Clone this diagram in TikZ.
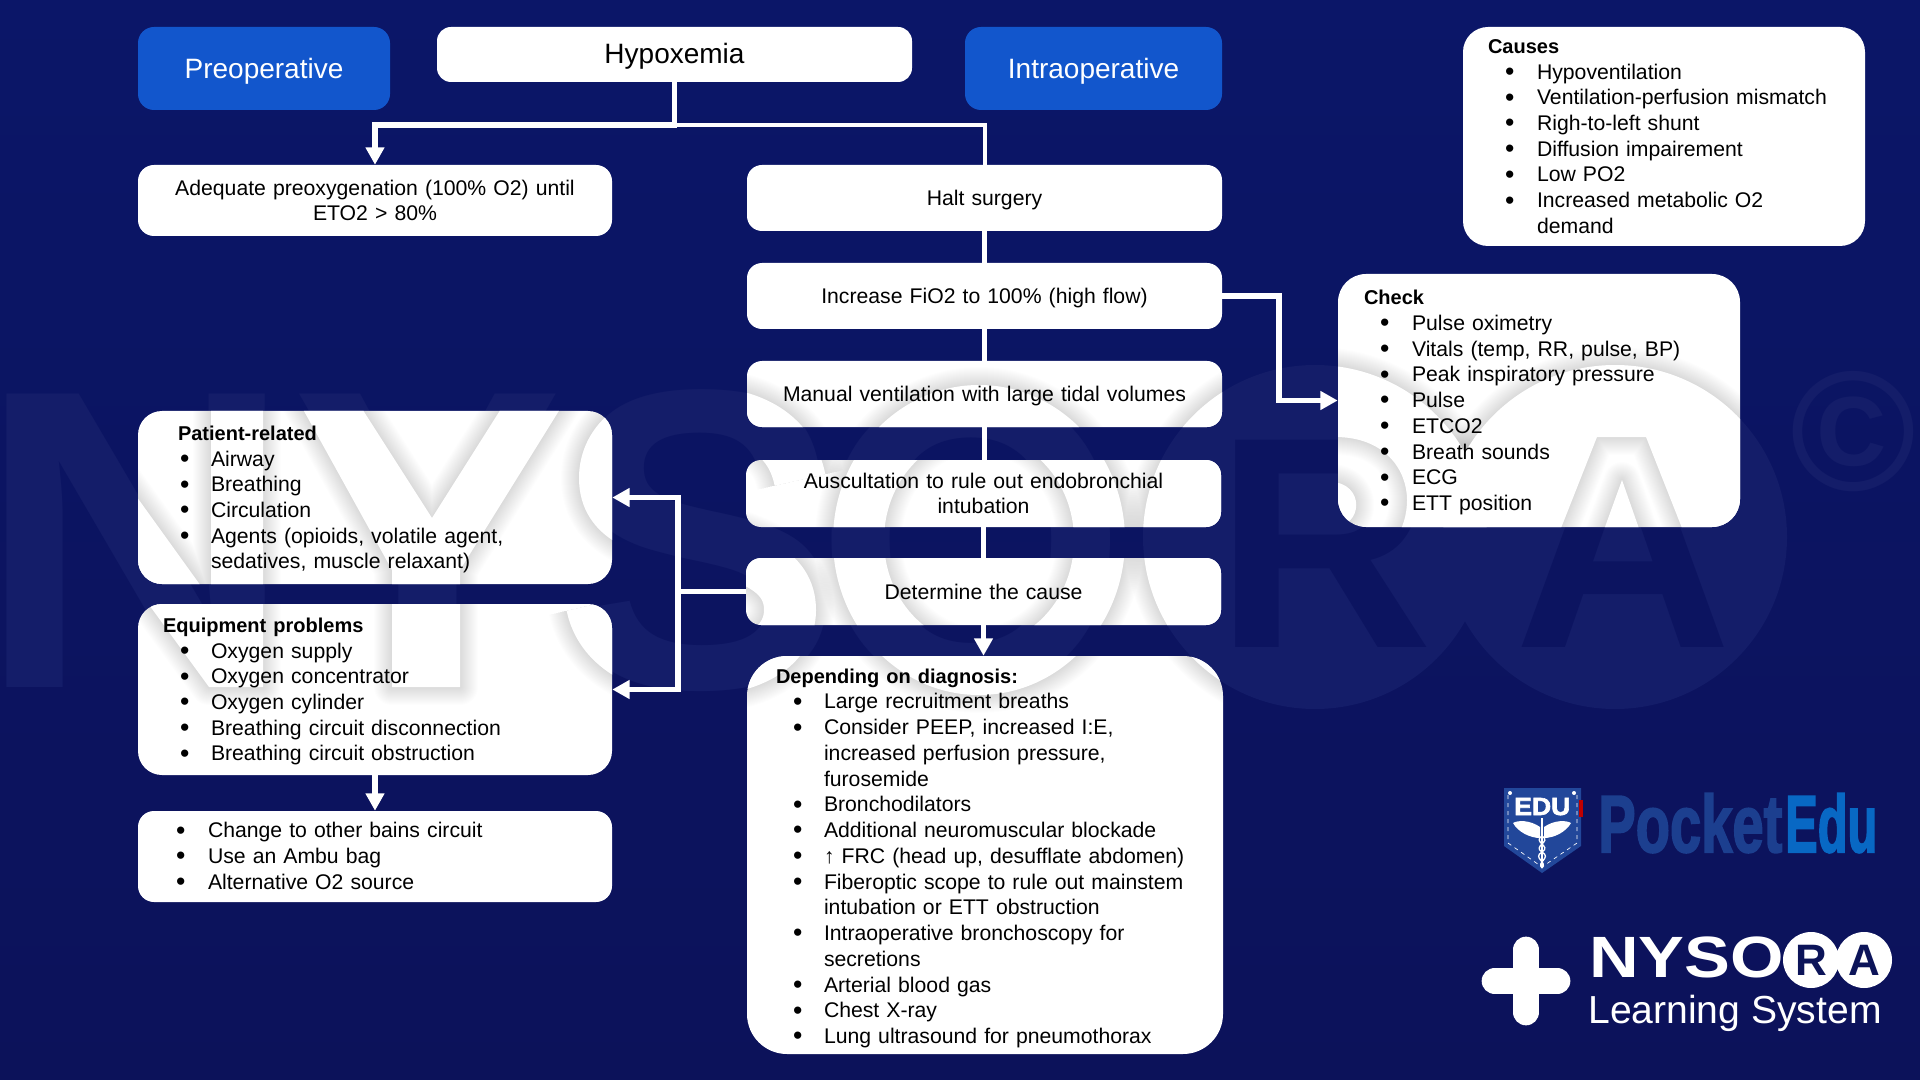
\documentclass[tikz,border=0pt]{standalone}
\usepackage{fontspec}
\usepackage{graphicx}
\setmainfont{Liberation Sans}
\newfontfamily\logoheavy[BoldFeatures={FakeBold=2.5}]{Liberation Sans}
\usetikzlibrary{arrows.meta}
\definecolor{bgtop}{HTML}{0B1668}
\definecolor{bgbot}{HTML}{0C125A}
\definecolor{wmark}{HTML}{141D69}
\definecolor{wcut}{HTML}{0C1460}
\definecolor{headblue}{HTML}{1256CC}
\definecolor{pocket}{HTML}{1C3F8F}
\definecolor{pocketb}{HTML}{0868C4}
\definecolor{shield}{HTML}{22479A}
\definecolor{navy}{HTML}{0C1459}
\newcommand{\PX}[1]{\dimexpr #1pt*3/4\relax}
\newcommand{\Lb}[3]{\mbox{\makebox[0pt][l]{\hspace*{\PX{#1}}\raisebox{-1pt}{\fontsize{20}{19.3}\selectfont •}}\hspace*{\PX{#2}}#3}}
\newcommand{\Lc}[2]{\mbox{\hspace*{\PX{#1}}#2}}
\newcommand{\Lh}[2]{\mbox{\hspace*{\PX{#1}}\fontsize{15}{19.3}\selectfont\textbf{#2}}}
\newcommand{\Dn}[2]{\raisebox{-#1}[\height][\depth]{#2}}
\newcommand{\Up}[1]{\Dn{1.2pt}{#1}}
% watermark outlines used for the soft shadows on the white boxes
\def\pN{(6,393) -- (62,393) -- (211,600) -- (211,393) -- (263,393) -- (263,687) -- (209,687) -- (58,480) -- (58,687) -- (6,687) -- cycle}
\def\pY{(294,393) -- (352,393) -- (432,518) -- (511,393) -- (570,393) -- (460,570) -- (460,687) -- (392,687) -- (392,570) -- cycle}
\def\pS{(800,480) .. controls (790,430) and (745,412) .. (695,412) .. controls (640,412) and (605,440) .. (605,478) .. controls (605,520) and (645,530) .. (695,542) .. controls (750,556) and (790,570) .. (790,610) .. controls (790,650) and (745,670) .. (695,670) .. controls (640,670) and (600,645) .. (592,605)}
\def\pO{(979,540) ellipse [x radius=146,y radius=155] (979,540) ellipse [x radius=95,y radius=105]}
\def\pR{(1315,537) circle [radius=172] (1245,437) -- (1335,437) .. controls (1385,437) and (1407,470) .. (1407,500) .. controls (1407,530) and (1390,555) .. (1360,563) -- (1407,647) -- (1350,647) -- (1310,572) -- (1298,572) -- (1298,647) -- (1245,647) -- cycle (1298,482) -- (1330,482) .. controls (1365,482) and (1365,528) .. (1330,528) -- (1298,528) -- cycle}
\def\pA{(1615,537) circle [radius=172] (1597,437) -- (1646,437) -- (1729,647) -- (1683,647) -- (1665,600) -- (1578,600) -- (1557,647) -- (1514,647) -- cycle (1622,480) -- (1650,560) -- (1593,560) -- cycle}
\newcommand{\SHs}[1]{\foreach \w in {2,4,...,36}{\draw[black,opacity=.0075,line width=\w*.75pt,line join=round] #1;}}
\newcommand{\SHf}[1]{\fill[white,even odd rule] #1;}
\newcommand{\WM}{\pgftransformreset
 \begin{scope}[sharp corners]
 \SHs{\pN}\SHf{\pN}
 \SHs{\pY}\SHf{\pY}
 \foreach \w in {54,56,...,88}{\draw[black,opacity=.0075,line width=\w*.75pt] \pS;}
 \draw[white,line width=39pt] \pS;
 \SHs{\pO}\SHf{\pO}
 \SHs{\pR}\SHs{\pA}\SHf{\pR}\SHf{\pA}
 \end{scope}}
\tikzset{
 wbox/.style n args={3}{draw=none,fill=white,inner sep=0pt,text=black,
   minimum width=#1*.75pt,minimum height=#2*.75pt,text width=#1*.75pt,
   rounded corners=#3*.75pt,path picture={\WM},
   font=\fontsize{15.9}{19.3}\selectfont},
 head/.style n args={2}{draw=none,fill=headblue,inner sep=0pt,text=white,
   minimum width=#1*.75pt,minimum height=#2*.75pt,rounded corners=12pt,
   font=\fontsize{21}{24}\selectfont},
 wmtext/.style={inner sep=0pt,anchor=base west,text=wmark,font=\fontsize{320}{320}\selectfont\bfseries},
 conn/.style={draw=white,line width=3.8pt},
 tipped/.style={conn,-{Triangle[length=13pt,width=13.5pt]}},
 logotext/.style={inner sep=0pt,anchor=base west},
}
\begin{document}
\begin{tikzpicture}[x=.75pt,y=-.75pt]
\useasboundingbox (0,0) rectangle (1920,1080);
\shade[top color=bgtop,bottom color=bgbot] (0,0) rectangle (1920,1080);
% watermark
\fill[wmark] (1315,537) circle [radius=172];
\fill[wmark] (1615,537) circle [radius=172];
\node[wmtext] (wn) at (6,687) {\makebox[0pt][l]{\hspace*{-22pt}\scalebox{1.03}[1]{N}}};
\node[wmtext] (wy) at (292,687) {\scalebox{.95}[1]{Y}};
\node[wmtext] (ws) at (558,687) {S};
\node[wmtext] (wo) at (815,687) {\scalebox{.94}[1]{O}};
\node[wmtext,text=wcut] (wr) at (1215,687) {\makebox[0pt][l]{\fontsize{226}{226}\selectfont\raisebox{30pt}{R}}};
\node[wmtext,text=wcut] (wa) at (1514,687) {\makebox[0pt][l]{\fontsize{226}{226}\selectfont\raisebox{30pt}{A}}};
\node[inner sep=0pt,text=wmark,font=\fontsize{128}{128}\selectfont\bfseries] (wc) at (1853,432) {©};

% boxes
\node[head={252}{83}] (pre) at (264,68.5) {\Dn{2pt}{Preoperative}};
\node[wbox={475}{55}{14},align=center,font=\fontsize{21}{24}\selectfont] (hyp) at (674.5,54.5) {\Dn{1.6pt}{Hypoxemia}};
\node[head={257}{83}] (intra) at (1093.5,68.5) {\Dn{2pt}{Intraoperative}};

\node[wbox={402}{219}{25},align=left] (causes) at (1664,136.5) {\Lh{25}{Causes}\\\Lb{42}{74}{Hypoventilation}\\\Lb{42}{74}{Ventilation-perfusion mismatch}\\\Lb{42}{74}{Righ-to-left shunt}\\\Lb{42}{74}{Diffusion impairement}\\\Lb{42}{74}{Low PO2}\\\Lb{42}{74}{Increased metabolic O2}\\\Lc{74}{demand}};

\node[wbox={474}{71}{16},align=center] (adeq) at (375,200.5) {Adequate preoxygenation (100\% O2) until\\ETO2 > 80\%};
\node[wbox={475}{66}{15},align=center] (halt) at (984.5,198) {\Up{Halt surgery}};
\node[wbox={475}{66}{15},align=center] (inc) at (984.5,296) {\Up{Increase FiO2 to 100\% (high flow)}};
\node[wbox={475}{66}{15},align=center] (man) at (984.5,394) {\Up{Manual ventilation with large tidal volumes}};
\node[wbox={475}{67}{15},align=center] (aus) at (983.5,493.5) {Auscultation to rule out endobronchial\\intubation};
\node[wbox={475}{67}{15},align=center] (det) at (983.5,591.5) {Determine the cause};

\node[wbox={476}{398}{40},align=left] (dep) at (985,855) {\rule{0pt}{15.8pt}\Lh{29}{Depending on diagnosis:}\\\Lb{46}{77}{Large recruitment breaths}\\\Lb{46}{77}{Consider PEEP, increased I:E,}\\\Lc{77}{increased perfusion pressure,}\\\Lc{77}{furosemide}\\\Lb{46}{77}{Bronchodilators}\\\Lb{46}{77}{Additional neuromuscular blockade}\\\Lb{46}{77}{↑ FRC (head up, desufflate abdomen)}\\\Lb{46}{77}{Fiberoptic scope to rule out mainstem}\\\Lc{77}{intubation or ETT obstruction}\\\Lb{46}{77}{Intraoperative bronchoscopy for}\\\Lc{77}{secretions}\\\Lb{46}{77}{Arterial blood gas}\\\Lb{46}{77}{Chest X-ray}\\\Lb{46}{77}{Lung ultrasound for pneumothorax}};

\node[wbox={474}{173}{24},align=left] (pat) at (375,497.5) {\rule{0pt}{14pt}\Lh{40}{Patient-related}\\\Lb{42}{73}{Airway}\\\Lb{42}{73}{Breathing}\\\Lb{42}{73}{Circulation}\\\Lb{42}{73}{Agents (opioids, volatile agent,}\\\Lc{73}{sedatives, muscle relaxant)}};
\node[wbox={474}{171}{24},align=left] (eq) at (375,689.5) {\rule{0pt}{14pt}\Lh{25}{Equipment problems}\\\Lb{42}{73}{Oxygen supply}\\\Lb{42}{73}{Oxygen concentrator}\\\Lb{42}{73}{Oxygen cylinder}\\\Lb{42}{73}{Breathing circuit disconnection}\\\Lb{42}{73}{Breathing circuit obstruction}};
\node[wbox={474}{91}{16},align=left] (chg) at (375,856.5) {\Lb{38}{70}{Change to other bains circuit}\\\Lb{38}{70}{Use an Ambu bag}\\\Lb{38}{70}{Alternative O2 source}};
\node[wbox={402}{253}{28},align=left] (check) at (1539,400.5) {\rule{0pt}{14pt}\Lh{26}{Check}\\\Lb{42}{74}{Pulse oximetry}\\\Lb{42}{74}{Vitals (temp, RR, pulse, BP)}\\\Lb{42}{74}{Peak inspiratory pressure}\\\Lb{42}{74}{Pulse}\\\Lb{42}{74}{ETCO2}\\\Lb{42}{74}{Breath sounds}\\\Lb{42}{74}{ECG}\\\Lb{42}{74}{ETT position}};

% connectors
\coordinate (branch) at (674.5,125);
\coordinate (bendck) at (1279,296);
\coordinate (trunk) at (678,591.5);
\draw[tipped] (hyp.south) -- (branch) -| (adeq.north);
\draw[conn,line width=3pt] (branch) -| (halt.north);
\draw[conn] (halt.south) -- (inc.north);
\draw[conn] (inc.south) -- (man.north);
\draw[conn] (man.south) -- (aus.north -| man.south);
\draw[conn] (aus.south) -- (det.north);
\draw[tipped] (det.south) -- (dep.north -| det.south);
\draw[tipped] (inc.east) -- (bendck) |- (check.west);
\draw[conn] (det.west) -- (trunk);
\draw[tipped] (trunk) |- (pat.east);
\draw[tipped] (trunk) |- (eq.east);
\draw[tipped] (eq.south) -- (chg.north);

% PocketEdu logo
\fill[shield] (1504,788) -- (1581,788) -- (1581,846) -- (1542,873) -- (1504,846) -- cycle;
\draw[white,line width=.5pt,dashed] (1508,795) -- (1508,843) -- (1542,867) -- (1577,843) -- (1577,795);
\fill[white] (1510,793) circle [radius=2] (1574,793) circle [radius=2];
\fill[red!75!black] (1579,800) rectangle (1583,817);
\node[logotext,text=white] (edu) at (1514,815) {\resizebox{42pt}{12.8pt}{\logoheavy\bfseries EDU}};
\draw[white,line width=1.4pt] (1542,818) -- (1542,868);
\fill[white] (1540,827) .. controls (1530,820) and (1518,820) .. (1513,823) .. controls (1518,832) and (1530,838) .. (1540,838) -- cycle;
\fill[white] (1544,827) .. controls (1554,820) and (1566,820) .. (1571,823) .. controls (1566,832) and (1554,838) .. (1544,838) -- cycle;
\draw[white,line width=1pt] (1542,836) .. controls (1532,842) and (1552,846) .. (1542,852) .. controls (1532,858) and (1548,862) .. (1542,868);
\draw[white,line width=1pt] (1542,836) .. controls (1552,842) and (1532,846) .. (1542,852) .. controls (1552,858) and (1536,862) .. (1542,868);
\node[logotext,text=pocket] (pk) at (1598,852) {\resizebox{138pt}{44pt}{\logoheavy\bfseries Pocket}};
\node[logotext,text=pocketb] (ed) at (1785,852) {\resizebox{69pt}{44pt}{\logoheavy\bfseries Edu}};

% NYSORA logo
\draw[white,line width=20pt,line cap=round] (1526,950) -- (1526,1012);
\draw[white,line width=20pt,line cap=round] (1495,981) -- (1557,981);
\fill[white,rounded corners=5pt] (1526,955) -- (1552,981) -- (1526,1007) -- (1500,981) -- cycle;
\node[logotext,text=white] (ny) at (1589,977) {\resizebox{146pt}{30.5pt}{\bfseries NYSO}};
\fill[white] (1811,960) circle [radius=28] (1864,960) circle [radius=28];
\node[inner sep=0pt,text=navy,font=\fontsize{33}{33}\selectfont\bfseries] (lr) at (1811,960) {R};
\node[inner sep=0pt,text=navy,font=\fontsize{33}{33}\selectfont\bfseries] (la) at (1864,960) {A};
\node[logotext,text=white] (ls) at (1588,1023) {\resizebox{220pt}{!}{Learning System}};
\end{tikzpicture}
\end{document}
